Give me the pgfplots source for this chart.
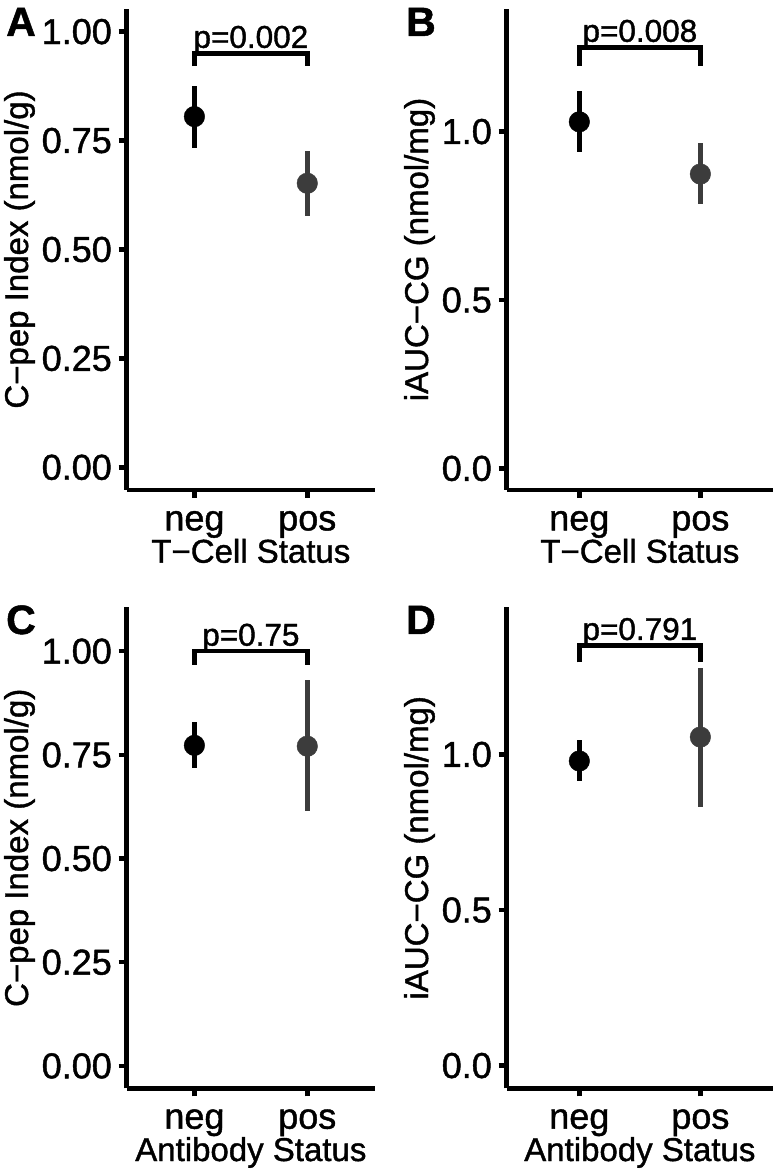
\documentclass[border=0pt]{standalone}
\usepackage{fontspec}
\setmainfont{Liberation Sans}[RawFeature={embolden=1.2}, BoldFont={Liberation Sans Bold}, BoldFeatures={RawFeature={embolden=1.2}}]
\usepackage{pgfplots}
\pgfplotsset{compat=1.18}
\definecolor{posgray}{HTML}{3C3C3C}
\newcommand{\tickfont}{\fontsize{36}{40}\selectfont}
\newcommand{\tfont}{\fontsize{33}{38}\selectfont}
\newcommand{\pfont}{\fontsize{31.5}{36}\selectfont}
\newcommand{\lfont}{\fontsize{41}{46}\selectfont\bfseries}
\pgfplotsset{
  panel/.style={
    scale only axis, height=481pt,
    xmin=0.4, xmax=2.6,
    axis x line=bottom, axis y line=left,
    axis line style={-, line width=4.5pt, black},
    tick align=outside, major tick length=8pt,
    tick style={line width=4.5pt, black},
    xtick={1,2}, xticklabels={neg,pos},
    tick label style={font=\tickfont, inner sep=0pt},
    every x tick label/.append style={anchor=base, yshift=-32.4pt},
    every y tick label/.append style={anchor=east, xshift=-6.7pt},
    every axis x label/.style={at={([yshift=-72.7pt]rel axis cs:0.5,0)}, anchor=base, inner sep=0pt, font=\tfont},
    clip=false,
  },
  ylabA/.style={every axis y label/.style={at={([xshift=-98.7pt]rel axis cs:0,0.5)}, rotate=90, anchor=base, inner sep=0pt, font=\tfont}},
  ylabB/.style={every axis y label/.style={at={([xshift=-78.7pt]rel axis cs:0,0.5)}, rotate=90, anchor=base, inner sep=0pt, font=\tfont}},
  negpt/.style={only marks, mark=*, mark size=10.3pt, black, mark options={fill=black, draw=black},
    error bars/.cd, y dir=both, y explicit, error mark=none, error bar style={line width=5pt, black}},
  pospt/.style={only marks, mark=*, mark size=10.3pt, posgray, mark options={fill=posgray, draw=posgray},
    error bars/.cd, y dir=both, y explicit, error mark=none, error bar style={line width=5pt, posgray}},
  bracket/.style={line width=4.5pt, black, mark=none, line join=miter},
}
\begin{document}
\begin{tikzpicture}
\path[use as bounding box] (0,0) rectangle (780pt,1174pt);

% Panel A
\begin{axis}[panel, ylabA, at={(126.7pt,684pt)}, anchor=south west, width=248.3pt,
  ymin=-0.052, ymax=1.052, ytick={0,0.25,0.5,0.75,1}, yticklabels={0.00,0.25,0.50,0.75,1.00},
  xlabel={T−Cell Status}, ylabel={C−pep Index (nmol/g)}]
\addplot[negpt] table[x=x, y=y, y error plus=ep, y error minus=em] {
x y ep em
1 0.805 0.070 0.073
};
\addplot[pospt] table[x=x, y=y, y error plus=ep, y error minus=em] {
x y ep em
2 0.652 0.073 0.075
};
\addplot[bracket] coordinates {(1,0.921) (1,0.950) (2,0.950) (2,0.921)};
\node[anchor=base, font=\pfont, inner sep=0pt] at ([yshift=5.6pt]axis cs:1.5,0.950) {p=0.002};
\end{axis}

% Panel B
\begin{axis}[panel, ylabB, at={(506.7pt,684pt)}, anchor=south west, width=266.3pt,
  ymin=-0.064, ymax=1.364, ytick={0,0.5,1}, yticklabels={0.0,0.5,1.0},
  xlabel={T−Cell Status}, ylabel={iAUC−CG (nmol/mg)}]
\addplot[negpt] table[x=x, y=y, y error plus=ep, y error minus=em] {
x y ep em
1 1.029 0.092 0.091
};
\addplot[pospt] table[x=x, y=y, y error plus=ep, y error minus=em] {
x y ep em
2 0.874 0.091 0.089
};
\addplot[bracket] coordinates {(1,1.195) (1,1.250) (2,1.250) (2,1.195)};
\node[anchor=base, font=\pfont, inner sep=0pt] at ([yshift=5.6pt]axis cs:1.5,1.250) {p=0.008};
\end{axis}

% Panel C
\begin{axis}[panel, ylabA, at={(126.7pt,85.7pt)}, anchor=south west, width=248.3pt,
  ymin=-0.054, ymax=1.106, ytick={0,0.25,0.5,0.75,1}, yticklabels={0.00,0.25,0.50,0.75,1.00},
  xlabel={Antibody Status}, ylabel={C−pep Index (nmol/g)}]
\addplot[negpt] table[x=x, y=y, y error plus=ep, y error minus=em] {
x y ep em
1 0.773 0.056 0.054
};
\addplot[pospt] table[x=x, y=y, y error plus=ep, y error minus=em] {
x y ep em
2 0.771 0.160 0.157
};
\addplot[bracket] coordinates {(1,0.968) (1,1.000) (2,1.000) (2,0.968)};
\node[anchor=base, font=\pfont, inner sep=0pt] at ([yshift=5.6pt]axis cs:1.5,1.000) {p=0.75};
\end{axis}

% Panel D
\begin{axis}[panel, ylabB, at={(506.7pt,85.7pt)}, anchor=south west, width=266.3pt,
  ymin=-0.073, ymax=1.473, ytick={0,0.5,1}, yticklabels={0.0,0.5,1.0},
  xlabel={Antibody Status}, ylabel={iAUC−CG (nmol/mg)}]
\addplot[negpt] table[x=x, y=y, y error plus=ep, y error minus=em] {
x y ep em
1 0.979 0.066 0.065
};
\addplot[pospt] table[x=x, y=y, y error plus=ep, y error minus=em] {
x y ep em
2 1.056 0.222 0.225
};
\addplot[bracket] coordinates {(1,1.296) (1,1.350) (2,1.350) (2,1.296)};
\node[anchor=base, font=\pfont, inner sep=0pt] at ([yshift=5.6pt]axis cs:1.5,1.350) {p=0.791};
\end{axis}

% Panel letters
\node[anchor=base west, inner sep=0pt, font=\lfont] at (6pt,1138pt) {A};
\node[anchor=base west, inner sep=0pt, font=\lfont] at (406pt,1138pt) {B};
\node[anchor=base west, inner sep=0pt, font=\lfont] at (6pt,540pt) {C};
\node[anchor=base west, inner sep=0pt, font=\lfont] at (406pt,540pt) {D};
\end{tikzpicture}
\end{document}
